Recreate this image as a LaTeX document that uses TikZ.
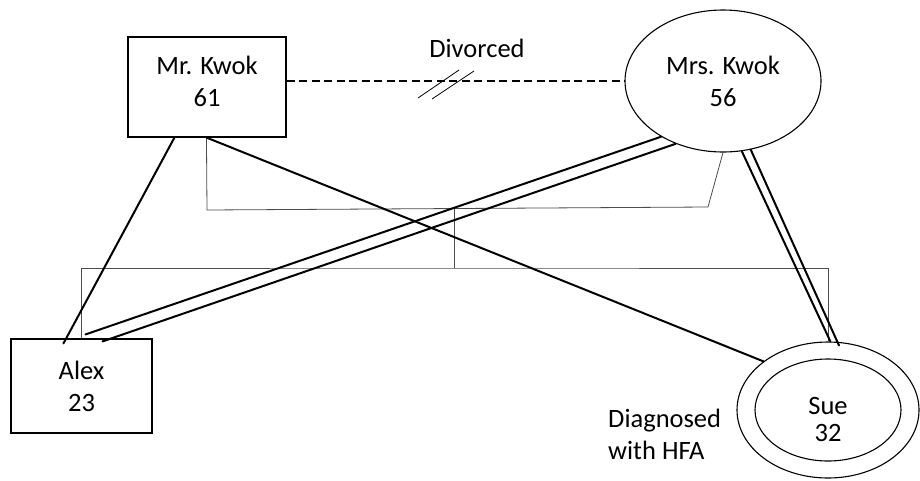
\documentclass[tikz,border=0pt]{standalone}
\usepackage{fontspec}
\setmainfont{Carlito}
\usetikzlibrary{shapes.geometric,calc}
\begin{document}
\begin{tikzpicture}[x=1pt,y=-1pt,
  txt/.style={font=\fontsize{26.5}{32}\selectfont, align=center, inner sep=0pt},
  person/.style={draw=black, line width=1.1pt, inner sep=0pt},
  tie/.style={line width=2pt, line cap=round},
  bracket/.style={draw=black!70, line width=0.8pt},
  slash/.style={line width=0.8pt},
  divline/.style={line width=2.4pt, dash pattern=on 8pt off 4.5pt}]
\useasboundingbox (0,0) rectangle (920,480);
% people
\node[person, rectangle, minimum width=158pt, minimum height=100pt] (mrk) at (207,87) {};
\node[txt] (mrkt) at (207,81) {Mr. Kwok\\61};
\node[person, ellipse, txt, minimum width=196pt, minimum height=142pt] (mrs) at (723,81) {Mrs. Kwok\\56};
\node[person, rectangle, txt, minimum width=141pt, minimum height=94pt] (alex) at (81.5,386) {Alex\\23};
\node[person, ellipse, minimum width=182pt, minimum height=136pt] (sueo) at (828,410) {};
\node[person, ellipse, minimum width=146pt, minimum height=102pt] (suei) at (828,410) {};
\node[txt, font=\fontsize{26.5}{27}\selectfont] (suet) at (828,419) {Sue\\32};
% labels
\node[txt, anchor=base] (div) at (477,57) {Divorced};
\node[txt, align=left, anchor=west] (diag) at (608,434) {Diagnosed\\with HFA};
% divorce
\draw[divline] (mrk.east |- mrs.west) -- (mrs.west);
\draw[slash] (418,98) -- (459,70);
\draw[slash] (432,99) -- (474,71);
% family bracket lines
\coordinate (fa) at (207,210);
\coordinate (fb) at (708,207);
\coordinate (ct) at (454,208.5);
\coordinate (cb) at (454,268);
\draw[bracket] ($(mrk.south west)+(79,0)$) -- (fa) -- (fb) -- (mrs.south);
\draw[bracket] (ct) -- (cb);
\draw[bracket] (alex.north) |- (cb) -| (sueo.north);
% relationship lines
\draw[tie] ($(mrk.south west)+(47,0)$) -- ($(alex.north west)+(53,5)$);
\draw[tie] ($(mrk.south west)+(79,0)$) -- (sueo.143);
\draw[tie] (mrs.222.5) -- ($(alex.north west)+(75,-4)$);
\draw[tie] (mrs.233) -- ($(alex.north west)+(92,3)$);
\draw[tie] (mrs.285) -- (sueo.88);
\draw[tie] (mrs.292.7) -- ($(sueo.north)+(11,4)$);
\end{tikzpicture}
\end{document}
